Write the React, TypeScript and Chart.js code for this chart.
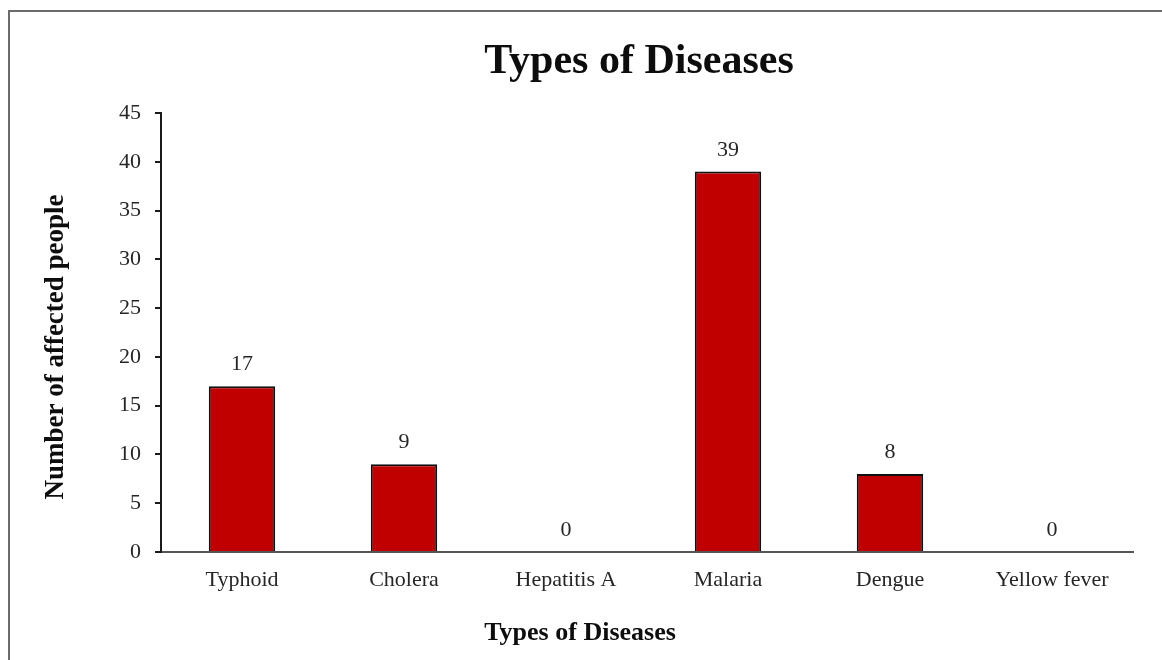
import { useEffect, useRef } from "react";
import { Chart, registerables } from "chart.js";

Chart.register(...registerables);

const categories = ["Typhoid", "Cholera", "Hepatitis A", "Malaria", "Dengue", "Yellow fever"];
const affected = [17, 9, 0, 39, 8, 0];
const yMin = 0;
const yMax = 45;
const yStep = 5;
const chartTitle = "Types of Diseases";
const xAxisTitle = "Types of Diseases";
const yAxisTitle = "Number of affected people";

const SERIF = '"Liberation Serif", "Times New Roman", serif';
const TEXT = "#262626";

// Value labels above each bar
const valueLabels = {
  id: "valueLabels",
  afterDatasetsDraw(chart: any) {
    const ctx = chart.ctx;
    const meta = chart.getDatasetMeta(0);
    ctx.save();
    ctx.font = `22px ${SERIF}`;
    ctx.fillStyle = TEXT;
    ctx.textAlign = "center";
    ctx.textBaseline = "alphabetic";
    meta.data.forEach((bar: any, i: number) => {
      ctx.fillText(String(affected[i]), bar.x, bar.y - 16);
    });
    ctx.restore();
  },
};

// Chart title and axis titles
const titles = {
  id: "titles",
  afterDraw(chart: any) {
    const ctx = chart.ctx;
    ctx.save();
    ctx.fillStyle = "#0d0d0d";
    ctx.textAlign = "center";
    ctx.textBaseline = "alphabetic";

    ctx.font = `bold 42px ${SERIF}`;
    ctx.fillText(chartTitle, 639, 73);

    ctx.font = `bold 26px ${SERIF}`;
    ctx.fillText(xAxisTitle, 580, 640);

    ctx.translate(63, 347);
    ctx.rotate(-Math.PI / 2);
    ctx.font = `bold 27px ${SERIF}`;
    ctx.fillText(yAxisTitle, 0, 0);
    ctx.restore();
  },
};

export default function App() {
  const canvasRef = useRef<HTMLCanvasElement>(null);

  useEffect(() => {
    if (!canvasRef.current) return;
    const chart = new Chart(canvasRef.current, {
      type: "bar",
      data: {
        labels: categories,
        datasets: [
          {
            data: affected,
            backgroundColor: "#C00000",
            borderColor: "#111111",
            borderWidth: 2,
            borderSkipped: "bottom",
            categoryPercentage: 1,
            barPercentage: 0.41,
          },
        ],
      },
      options: {
        responsive: false,
        animation: false,
        layout: { padding: { top: 113, right: 29, bottom: 0, left: 0 } },
        plugins: {
          legend: { display: false },
          title: { display: false },
          tooltip: { enabled: false },
        },
        scales: {
          x: {
            afterFit(scale: any) {
              scale.height = 108;
            },
            grid: { display: false, drawTicks: false },
            border: { display: true, color: "#555555", width: 2 },
            ticks: {
              padding: 15,
              color: TEXT,
              font: { family: SERIF, size: 22 },
              maxRotation: 0,
            },
          },
          y: {
            min: yMin,
            max: yMax,
            afterFit(scale: any) {
              scale.width = 161;
            },
            grid: {
              drawOnChartArea: false,
              drawTicks: true,
              tickLength: 6,
              color: "#1a1a1a",
              lineWidth: 2,
            },
            border: { display: true, color: "#1a1a1a", width: 2 },
            ticks: {
              stepSize: yStep,
              padding: 14,
              color: TEXT,
              font: { family: SERIF, size: 22 },
            },
          },
        },
      },
      plugins: [valueLabels, titles],
    });
    return () => chart.destroy();
  }, []);

  return (
    <div
      style={{
        position: "fixed",
        left: 0,
        top: 0,
        width: 1162,
        height: 660,
        overflow: "hidden",
        background: "#ffffff",
      }}
    >
      <canvas
        ref={canvasRef}
        width={1162}
        height={660}
        style={{ position: "absolute", left: 0, top: 0 }}
      />
      <div
        style={{
          position: "absolute",
          left: 8,
          top: 10,
          width: 1200,
          height: 700,
          border: "2px solid #6b6b6b",
          pointerEvents: "none",
        }}
      />
    </div>
  );
}
